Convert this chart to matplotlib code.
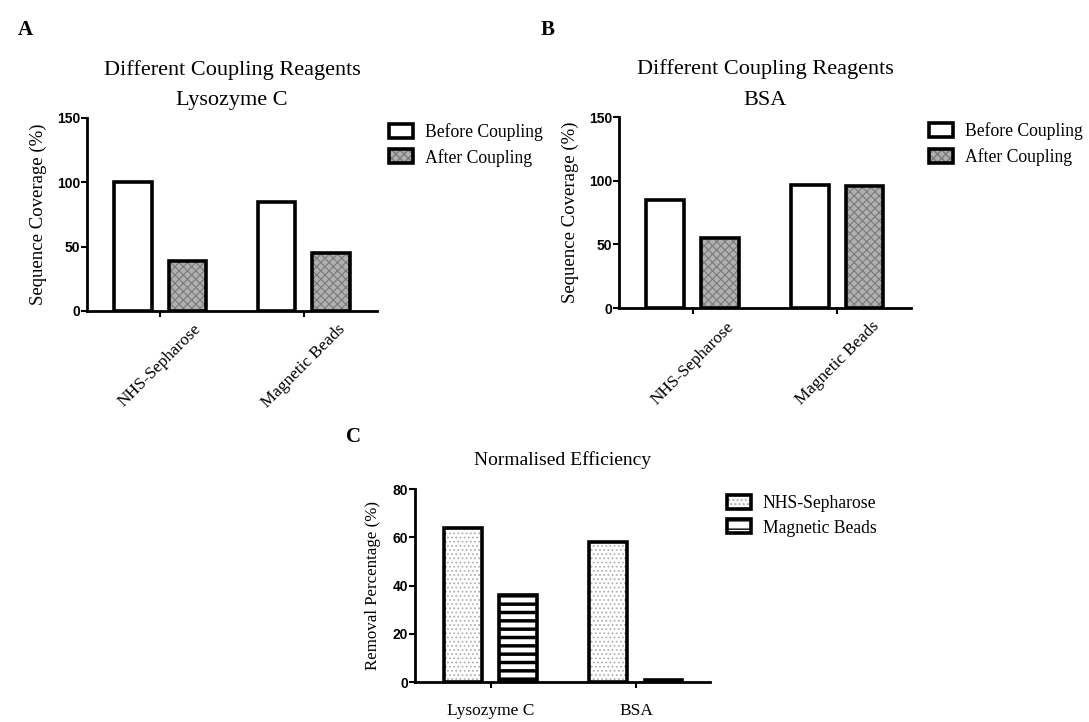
import matplotlib
matplotlib.use('Agg')
import matplotlib.pyplot as plt
import numpy as np

# data
reagents = ['NHS-Sepharose', 'Magnetic Beads']
lyso_before = [100, 85]
lyso_after = [39, 45]
bsa_before = [85, 97]
bsa_after = [55, 96]

proteins = ['Lysozyme C', 'BSA']
removal_nhs = [64, 58]
removal_mag = [36, 1]

SERIF = 'Liberation Serif'
SANS = 'Liberation Sans'

fig = plt.figure(figsize=(10.89, 7.22), dpi=100)

W = 0.26
OFF = 0.19
EDGE_LW = 2.6


def style_axes(ax, ymax, step):
    for s in ['top', 'right']:
        ax.spines[s].set_visible(False)
    for s in ['left', 'bottom']:
        ax.spines[s].set_linewidth(2.0)
    ax.set_ylim(0, ymax)
    ax.set_yticks(np.arange(0, ymax + 1, step))
    ax.tick_params(axis='y', length=4, width=1.5, pad=1)
    ax.tick_params(axis='x', length=4, width=1.5, direction='out')
    for t in ax.get_yticklabels():
        t.set_fontfamily(SANS)
        t.set_fontweight('bold')
        t.set_fontsize(10)


def hatched_bar(ax, x, h, face, hatch, hcolor, hlw=1.0):
    with plt.rc_context({'hatch.linewidth': hlw}):
        b1 = ax.bar(x, h, W, color=face, edgecolor=hcolor, hatch=hatch, linewidth=0)
    b2 = ax.bar(x, h, W, fill=False, edgecolor='black', linewidth=EDGE_LW)
    return (b1, b2)


def coverage_panel(rect, before, after, subtitle, leg_anchor):
    ax = fig.add_axes(rect)
    x = np.arange(len(reagents))
    b_before = ax.bar(x - OFF, before, W, color='white', edgecolor='black', linewidth=EDGE_LW)
    b_after = hatched_bar(ax, x + OFF, after, '#b0b0b0', 'xxxx', '#7a7a7a', 0.8)
    ax.set_xlim(-0.51, 1.51)
    style_axes(ax, 150, 50)
    ax.set_xticks(x)
    ax.set_xticklabels(reagents, rotation=45, ha='center', fontfamily=SERIF, fontsize=12.3)
    ax.set_ylabel('Sequence Coverage (%)', fontfamily=SERIF, fontsize=13.5, labelpad=7)
    ax.set_title('Different Coupling Reagents\n' + subtitle, fontfamily=SERIF, fontsize=16,
                 linespacing=1.85, pad=9)
    ax.legend([b_before, b_after], ['Before Coupling', 'After Coupling'],
              loc='upper left', bbox_to_anchor=leg_anchor, frameon=False,
              prop={'family': SERIF, 'size': 12.7}, handlelength=1.35, handleheight=0.85,
              handletextpad=0.7, labelspacing=0.45)
    return ax


axA = coverage_panel([0.0799, 0.5693, 0.2663, 0.2673], lyso_before, lyso_after,
                     'Lysozyme C', (0.986, 1.057))
axB = coverage_panel([0.5684, 0.5734, 0.2681, 0.2645], bsa_before, bsa_after,
                     'BSA', (1.008, 1.057))

# panel C
axC = fig.add_axes([0.3811, 0.0554, 0.2709, 0.2673])
xc = np.arange(len(proteins))
b_nhs = hatched_bar(axC, xc - OFF, removal_nhs, 'white', '....', '#b0b0b0', 0.8)
b_mag = hatched_bar(axC, xc + OFF, removal_mag, 'white', '--', 'black', 2.5)
axC.set_xlim(-0.52, 1.51)
style_axes(axC, 80, 20)
axC.set_xticks(xc)
axC.set_xticklabels(proteins, fontfamily=SERIF, fontsize=12.5)
axC.tick_params(axis='x', pad=11)
axC.set_ylabel('Removal Percentage (%)', fontfamily=SERIF, fontsize=12.2, labelpad=8)
axC.set_title('Normalised Efficiency', fontfamily=SERIF, fontsize=14, pad=17)
axC.legend([b_nhs, b_mag], ['NHS-Sepharose', 'Magnetic Beads'],
           loc='upper left', bbox_to_anchor=(1.003, 1.05), frameon=False,
           prop={'family': SERIF, 'size': 12.7}, handlelength=1.35, handleheight=0.85,
           handletextpad=0.7, labelspacing=0.4)

# panel letters
for letter, (px, py) in zip('ABC', [(18, 30), (541, 30), (346, 437)]):
    fig.text(px / 1089, 1 - py / 722, letter, fontfamily=SERIF, fontweight='bold',
             fontsize=15, ha='left', va='center')

fig.savefig('out.png', dpi=100)
